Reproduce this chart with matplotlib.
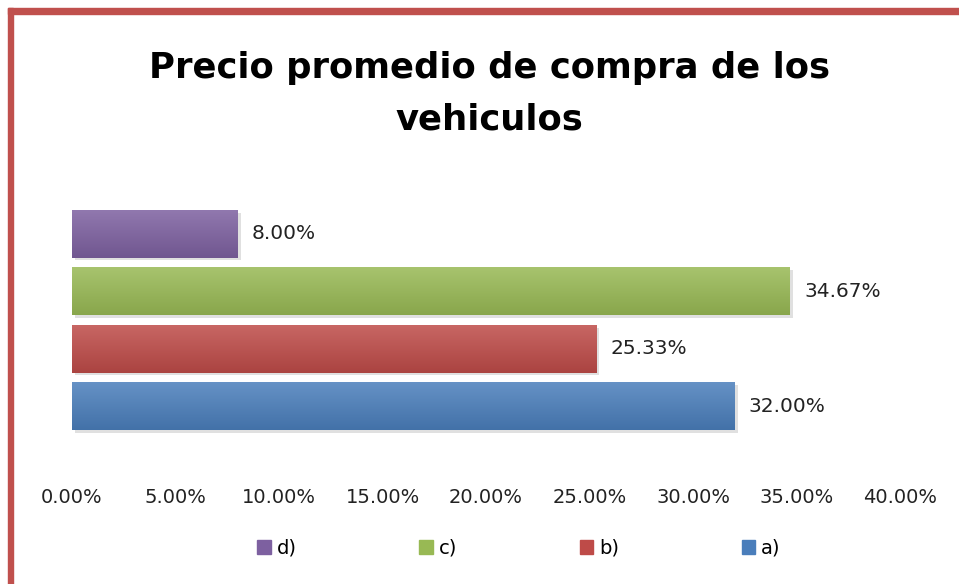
import numpy as np
import matplotlib
matplotlib.use('Agg')
import matplotlib.pyplot as plt
from matplotlib.patches import Rectangle
from matplotlib import colors as mcolors

# datos
opciones = ['a)', 'b)', 'c)', 'd)']
porcentajes = [32.00, 25.33, 34.67, 8.00]
colores = ['#4a7ebb', '#be4b48', '#98b954', '#7d60a0']
ticks_x = [0, 5, 10, 15, 20, 25, 30, 35, 40]

plt.rcParams['font.family'] = ['DejaVu Sans']

W, H = 959, 584
fig = plt.figure(figsize=(W / 100, H / 100), dpi=100)

# borde rojo (arriba e izquierda)
fig.patches.append(Rectangle((8 / W, 1 - 14 / H), 1, 6 / H, transform=fig.transFigure,
                             color='#c0504d', zorder=0))
fig.patches.append(Rectangle((8 / W, 0), 5 / W, 1 - 8 / H, transform=fig.transFigure,
                             color='#c0504d', zorder=0))

ax = fig.add_axes([72 / W, 1 - 435 / H, (900 - 72) / W, (435 - 205) / H])
y = np.arange(len(opciones))
barras = ax.barh(y, porcentajes, height=0.83, color=colores, zorder=3)

# degradado vertical y sombra ligera
for b, c in zip(barras, colores):
    base = np.array(mcolors.to_rgb(c))
    arriba = base + (1 - base) * 0.15
    abajo = base * 0.9
    t = np.linspace(0, 1, 64)[:, None]
    grad = (arriba[None, :] * (1 - t) + abajo[None, :] * t)[:, None, :]
    x0, y0, w, h = b.get_x(), b.get_y(), b.get_width(), b.get_height()
    im = ax.imshow(grad, extent=(x0, x0 + w, y0, y0 + h), origin='upper', aspect='auto', zorder=3.5)
    im.set_clip_path(b)
    ax.add_patch(Rectangle((x0 + 0.15, y0 - 0.05), w, h, color='#cccccc', alpha=0.6, zorder=2, lw=0))

for yi, v in zip(y, porcentajes):
    ax.text(v + 0.7, yi, '%.2f%%' % v, va='center', ha='left', fontsize=14.5, color='#222222')

ax.set_xlim(0, 40)
ax.set_ylim(-0.5, 3.5)
ax.set_xticks(ticks_x)
ax.set_xticklabels(['%.2f%%' % t for t in ticks_x], fontsize=14, color='#222222')
ax.tick_params(axis='x', length=0, pad=38)
ax.set_yticks([])
for s in ax.spines.values():
    s.set_visible(False)

fig.text(0.510, 1 - 68 / H, 'Precio promedio de compra de los', ha='center', va='center',
         fontsize=25.5, fontweight='bold')
fig.text(0.510, 1 - 120 / H, 'vehiculos', ha='center', va='center',
         fontsize=25.5, fontweight='bold')

handles = [Rectangle((0, 0), 1, 1, color=c) for c in colores][::-1]
fig.legend(handles, opciones[::-1], loc='center', bbox_to_anchor=(519 / W, 1 - 548 / H),
           ncol=4, frameon=False, fontsize=14, handlelength=0.7, handleheight=0.7,
           handletextpad=0.3, columnspacing=6.3)

fig.savefig('out.png', dpi=100)
